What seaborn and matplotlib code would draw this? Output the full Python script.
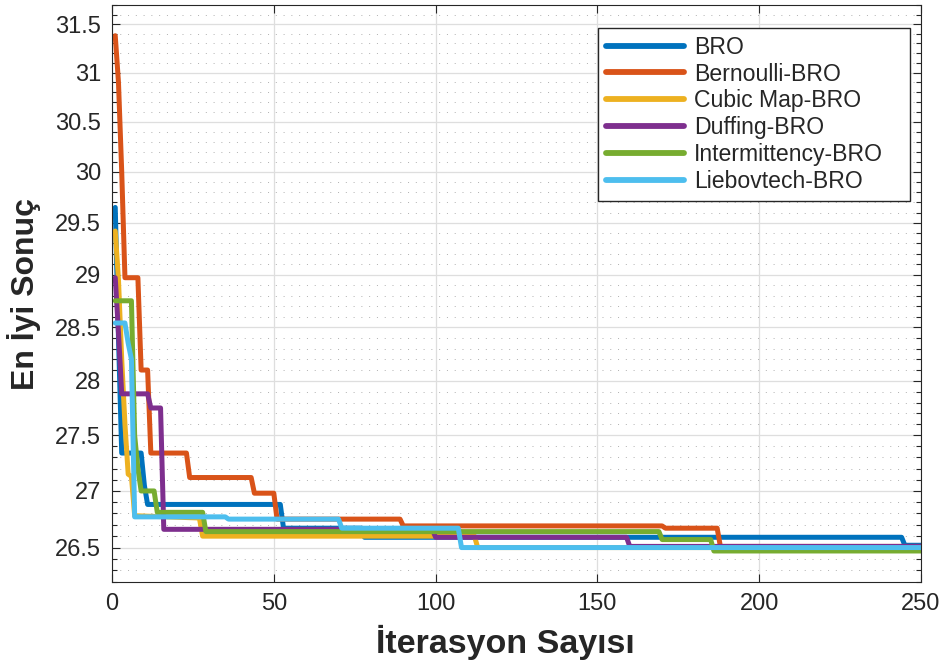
import numpy as np
import pandas as pd
import matplotlib
matplotlib.use('Agg')
import matplotlib.pyplot as plt
import seaborn as sns
from matplotlib.ticker import FixedLocator, FuncFormatter, NullFormatter

# convergence curves, (iteration, best value) points
bro_it = [1, 2, 3, 9, 10, 11, 52, 53, 77, 78, 244, 245, 250]
bro_val = [29.65, 28.4, 27.34, 27.34, 27.05, 26.88, 26.88, 26.67, 26.67, 26.59, 26.59, 26.52, 26.52]

bern_it = [1, 2, 3, 4, 8, 9, 11, 12, 23, 24, 43, 44, 50, 51, 89, 90, 170, 171, 187, 188, 250]
bern_val = [31.38, 30.9, 30.0, 28.97, 28.97, 28.10, 28.10, 27.34, 27.34, 27.12, 27.12, 26.98,
            26.98, 26.75, 26.75, 26.69, 26.69, 26.67, 26.67, 26.51, 26.51]

cubic_it = [1, 2, 3, 4, 5, 6, 7, 27, 28, 112, 113, 250]
cubic_val = [29.42, 28.95, 28.2, 27.6, 27.15, 27.13, 26.78, 26.76, 26.60, 26.60, 26.50, 26.50]

duff_it = [1, 2, 3, 11, 12, 15, 16, 99, 100, 159, 160, 250]
duff_val = [28.97, 28.45, 27.88, 27.88, 27.75, 27.75, 26.66, 26.66, 26.59, 26.59, 26.51, 26.51]

inter_it = [1, 6, 7, 8, 9, 13, 14, 28, 29, 169, 170, 185, 186, 250]
inter_val = [28.75, 28.75, 27.5, 27.2, 27.0, 27.0, 26.81, 26.81, 26.64, 26.64, 26.57, 26.57, 26.47, 26.47]

lieb_it = [1, 4, 5, 6, 7, 35, 36, 70, 71, 107, 108, 250]
lieb_val = [28.54, 28.54, 28.35, 28.2, 26.77, 26.77, 26.75, 26.75, 26.67, 26.67, 26.50, 26.50]

names = ['BRO', 'Bernoulli-BRO', 'Cubic Map-BRO', 'Duffing-BRO', 'Intermittency-BRO', 'Liebovtech-BRO']
colors = ['#0072BD', '#D95319', '#EDB120', '#7E2F8E', '#77AC30', '#4DBEEE']

x_ticks = [0, 50, 100, 150, 200, 250]
y_ticks = [26.5, 27, 27.5, 28, 28.5, 29, 29.5, 30, 30.5, 31, 31.5]
y_minor = [round(26.2 + 0.1 * i, 1) for i in range(56)]

series = [(bro_it, bro_val), (bern_it, bern_val), (cubic_it, cubic_val),
          (duff_it, duff_val), (inter_it, inter_val), (lieb_it, lieb_val)]
df = pd.concat([pd.DataFrame({'it': it, 'val': val, 'alg': n})
                for n, (it, val) in zip(names, series)], ignore_index=True)

sns.set_theme(style='ticks')
plt.rcParams['font.family'] = ['Liberation Sans', 'DejaVu Sans']

fig = plt.figure(figsize=(9.46, 6.68), dpi=100)
ax = fig.add_axes([0.1184, 0.1287, 0.8552, 0.8638])

sns.lineplot(data=df, x='it', y='val', hue='alg', hue_order=names, palette=colors,
             linewidth=3.6, sort=False, estimator=None, ax=ax)

ax.set_yscale('log')
ax.set_xlim(0, 250)
ax.set_ylim(26.2, 31.7)
ax.set_xticks(x_ticks)
ax.yaxis.set_major_locator(FixedLocator(y_ticks))
ax.yaxis.set_minor_locator(FixedLocator(y_minor))
ax.yaxis.set_major_formatter(FuncFormatter(lambda v, p: f'{v:g}'))
ax.yaxis.set_minor_formatter(NullFormatter())

ax.set_axisbelow(True)
ax.grid(True, which='major', color='#dedede', lw=0.9, ls='-')
ax.grid(True, which='minor', axis='y', color='#b0b0b0', lw=0.7, ls=(0, (1, 7)))

dark = '#262626'
ax.tick_params(which='both', direction='in', top=True, right=True, color=dark, width=0.8)
ax.tick_params(which='major', length=6, labelsize=17, labelcolor=dark, pad=8)
ax.tick_params(which='minor', length=3.5)
for s in ax.spines.values():
    s.set_color(dark)
    s.set_linewidth(0.8)

ax.set_xlabel('İterasyon Sayısı', fontsize=24.5, fontweight='bold', color=dark)
ax.xaxis.set_label_coords(0.486, -0.074)
ax.set_ylabel('En İyi Sonuç', fontsize=23, fontweight='bold', color=dark, labelpad=10)

handles, labels = ax.get_legend_handles_labels()
leg = ax.legend(handles, labels, loc='upper left', bbox_to_anchor=(0.6007, 0.0, 0.3857, 0.9601),
                mode='expand', borderaxespad=0, fontsize=16.6, frameon=True, fancybox=False,
                edgecolor=dark, framealpha=1, handlelength=3.4, handletextpad=0.45,
                labelspacing=0.17, borderpad=0.33)
leg.get_frame().set_linewidth(1.0)
for ln in leg.get_lines():
    ln.set_linewidth(4.2)

fig.savefig('out.png', dpi=100)
